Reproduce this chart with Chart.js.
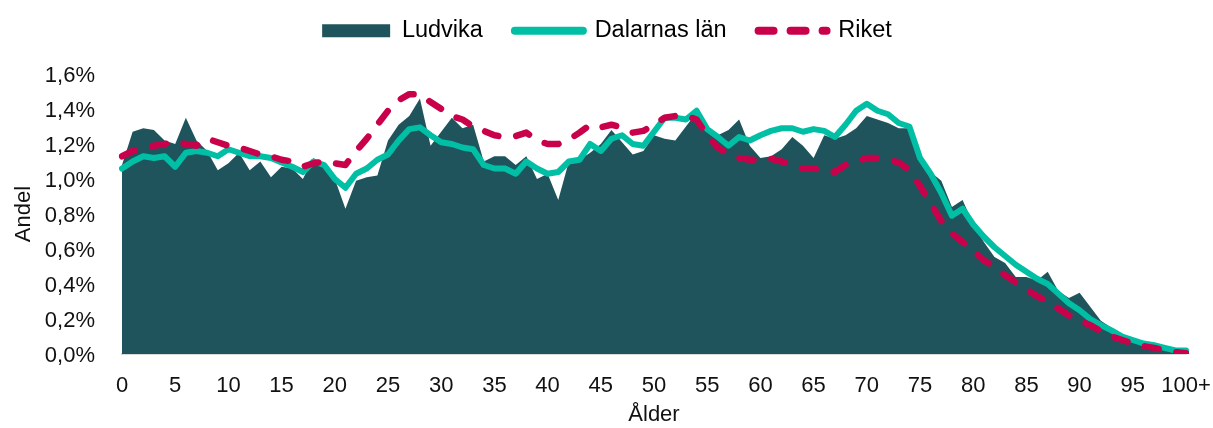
<!DOCTYPE html>
<html>
<head>
<meta charset="utf-8">
<script src="https://cdn.jsdelivr.net/npm/chart.js@4/dist/chart.umd.min.js"></script>
<style>
  body { margin: 0; background: #fff; }
  #wrap { width: 1213px; height: 428px; }
</style>
</head>
<body>
<div id="wrap"><canvas id="myChart"></canvas></div>
<script>
// ages 0..99 plus 100+
var ages = [];
for (var i = 0; i < 100; i++) ages.push(String(i));
ages.push('100+');

var ludvika = [1.08, 1.27, 1.29, 1.28, 1.22, 1.20, 1.35, 1.22, 1.16, 1.05,
  1.09, 1.15, 1.05, 1.10, 1.01, 1.07, 1.06, 1.00, 1.12, 1.07,
  1.00, 0.83, 0.99, 1.01, 1.02, 1.22, 1.31, 1.36, 1.46, 1.19,
  1.27, 1.35, 1.29, 1.31, 1.10, 1.13, 1.13, 1.08, 1.13, 1.00,
  1.03, 0.88, 1.10, 1.11, 1.15, 1.20, 1.28, 1.21, 1.14, 1.16,
  1.25, 1.23, 1.22, 1.30, 1.38, 1.27, 1.25, 1.28, 1.34, 1.19,
  1.12, 1.13, 1.17, 1.24, 1.19, 1.12, 1.25, 1.23, 1.25, 1.29,
  1.36, 1.34, 1.32, 1.29, 1.29, 1.12, 1.04, 0.99, 0.84, 0.88,
  0.745, 0.64, 0.555, 0.52, 0.44, 0.44, 0.42, 0.47, 0.36, 0.32,
  0.35, 0.27, 0.19, 0.15, 0.11, 0.08, 0.06, 0.04, 0.03, 0.02,
  0.01];

var dalarna = [1.06, 1.10, 1.13, 1.12, 1.13, 1.07, 1.15, 1.16, 1.15, 1.13,
  1.17, 1.15, 1.13, 1.13, 1.12, 1.095, 1.07, 1.04, 1.10, 1.08,
  1.00, 0.95, 1.03, 1.06, 1.11, 1.14, 1.22, 1.285, 1.295, 1.25,
  1.21, 1.20, 1.18, 1.17, 1.08, 1.06, 1.06, 1.03, 1.10, 1.06,
  1.03, 1.04, 1.10, 1.11, 1.20, 1.16, 1.23, 1.25, 1.20, 1.19,
  1.27, 1.35, 1.35, 1.34, 1.39, 1.285, 1.24, 1.19, 1.24, 1.22,
  1.25, 1.275, 1.29, 1.29, 1.27, 1.285, 1.275, 1.24, 1.31, 1.39,
  1.43, 1.39, 1.37, 1.32, 1.30, 1.12, 1.03, 0.92, 0.79, 0.83,
  0.74, 0.67, 0.61, 0.56, 0.51, 0.47, 0.43, 0.40, 0.345, 0.29,
  0.25, 0.20, 0.165, 0.135, 0.10, 0.08, 0.06, 0.05, 0.035, 0.02,
  0.02];

var riket = [1.13, 1.16, 1.18, 1.19, 1.20, 1.21, 1.20, 1.19, 1.23, 1.21,
  1.19, 1.18, 1.16, 1.14, 1.13, 1.11, 1.10, 1.07, 1.09, 1.10,
  1.09, 1.08, 1.16, 1.23, 1.31, 1.39, 1.45, 1.485, 1.485, 1.44,
  1.40, 1.36, 1.34, 1.30, 1.275, 1.25, 1.24, 1.245, 1.265, 1.22,
  1.20, 1.20, 1.225, 1.265, 1.31, 1.295, 1.31, 1.295, 1.265, 1.275,
  1.31, 1.35, 1.36, 1.36, 1.34, 1.25, 1.18, 1.14, 1.12, 1.11,
  1.11, 1.115, 1.10, 1.08, 1.06, 1.06, 1.05, 1.04, 1.08, 1.10,
  1.12, 1.12, 1.11, 1.095, 1.05, 0.96, 0.86, 0.76, 0.69, 0.64,
  0.59, 0.535, 0.50, 0.45, 0.41, 0.37, 0.33, 0.30, 0.26, 0.22,
  0.19, 0.165, 0.13, 0.10, 0.08, 0.06, 0.045, 0.035, 0.02, 0.01,
  0.005];

var yTicks = [0, 0.2, 0.4, 0.6, 0.8, 1.0, 1.2, 1.4, 1.6];

var FONT = "'Liberation Sans', Arial, sans-serif";
Chart.defaults.font.family = FONT;
Chart.defaults.color = '#111';

// legend needs to be taller than it draws, so the plot starts lower
var legendHeight = {
  id: 'legendHeight',
  beforeUpdate: function (chart) {
    var lg = chart.legend;
    if (lg && !lg._tall) {
      var fit = lg.fit;
      lg.fit = function () { fit.call(this); this.height = 87; };
      lg._tall = true;
    }
  }
};

var ctx = document.getElementById('myChart').getContext('2d');
var myChart = new Chart(ctx, {
  type: 'line',
  data: {
    labels: ages,
    datasets: [{
      label: 'Ludvika',
      data: ludvika,
      backgroundColor: '#20545d',
      borderColor: '#20545d',
      borderWidth: 0,
      fill: 'origin',
      pointRadius: 0,
      order: 3
    }, {
      label: 'Dalarnas län',
      data: dalarna,
      borderColor: '#00bfa5',
      borderWidth: 6,
      borderJoinStyle: 'round',
      borderCapStyle: 'round',
      fill: false,
      pointRadius: 0,
      order: 2
    }, {
      label: 'Riket',
      data: riket,
      borderColor: '#c9004a',
      borderWidth: 6.5,
      borderDash: [14, 18],
      borderJoinStyle: 'round',
      borderCapStyle: 'round',
      fill: false,
      pointRadius: 0,
      order: 1
    }]
  },
  options: {
    responsive: true,
    maintainAspectRatio: false,
    animation: false,
    layout: { padding: { left: 28, right: 27, top: -13, bottom: 0 } },
    plugins: {
      tooltip: { enabled: false },
      legend: {
        position: 'top',
        labels: {
          font: { size: 23.5 },
          color: '#111',
          usePointStyle: true,
          pointStyleWidth: 68,
          boxHeight: 13,
          padding: 32,
          generateLabels: function (chart) {
            return chart.data.datasets.map(function (ds, i) {
              if (i === 0) {
                return { text: ds.label, datasetIndex: i, pointStyle: 'rect',
                  fillStyle: ds.backgroundColor, strokeStyle: ds.backgroundColor, lineWidth: 0 };
              }
              return { text: ds.label, datasetIndex: i, pointStyle: 'line',
                fillStyle: ds.borderColor, strokeStyle: ds.borderColor, lineWidth: 8,
                lineCap: 'round', lineDash: ds.borderDash ? [15, 17] : [] };
            });
          }
        }
      }
    },
    scales: {
      x: {
        grid: { display: false, drawTicks: false },
        border: { color: '#d9d9d9', width: 2 },
        ticks: {
          autoSkip: false,
          maxRotation: 0,
          padding: 19,
          font: { size: 22 },
          callback: function (v, i) { return i % 5 === 0 ? ages[i] : ''; }
        },
        title: { display: true, text: 'Ålder', font: { size: 22 }, padding: { top: 0, bottom: 0 } },
        afterFit: function (scale) {
          scale.height = 74;
          scale.paddingLeft = 0;
          scale.paddingRight = 0;
        }
      },
      y: {
        min: 0,
        max: 1.6,
        grid: { display: false, drawTicks: false },
        border: { display: false },
        afterBuildTicks: function (scale) {
          scale.ticks = yTicks.map(function (v) { return { value: v }; });
        },
        ticks: {
          padding: 27,
          labelOffset: 2,
          font: { size: 22 },
          callback: function (v) { return v.toFixed(1).replace('.', ',') + '%'; }
        },
        title: { display: true, text: 'Andel', font: { size: 22 }, padding: { top: -17, bottom: 0 } },
        afterFit: function (scale) { scale.width = 94; }
      }
    }
  },
  plugins: [legendHeight]
});
</script>
</body>
</html>
